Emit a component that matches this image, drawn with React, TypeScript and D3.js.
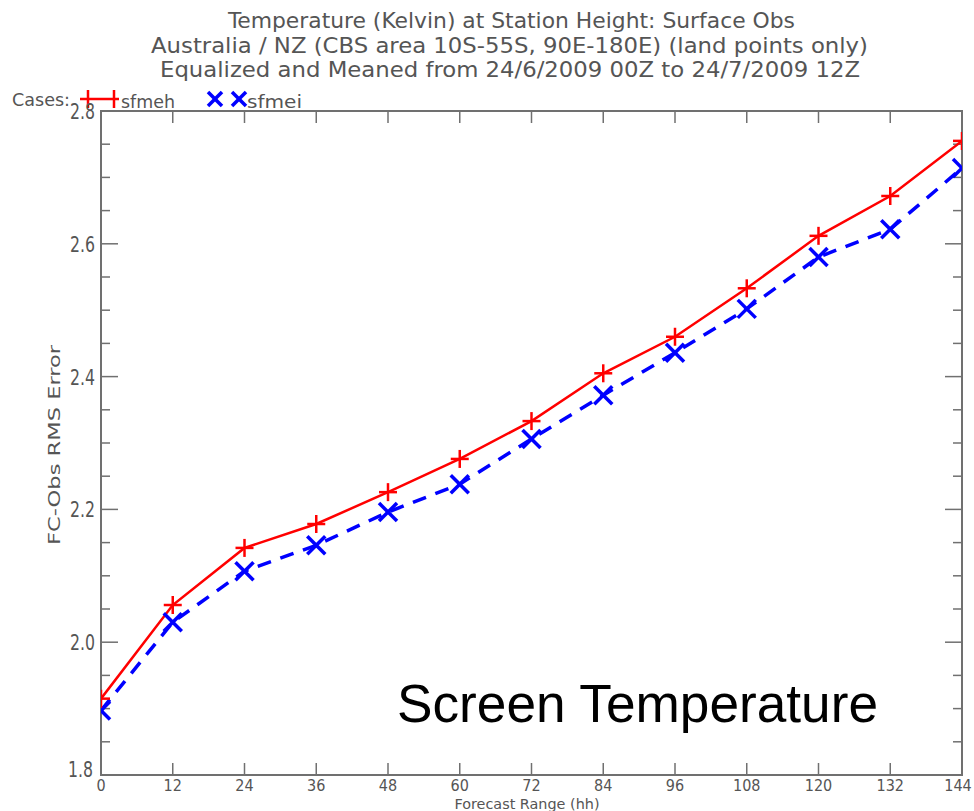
import * as d3 from "d3";
import React from "react";

// forecast range (hh)
const hours = [0, 12, 24, 36, 48, 60, 72, 84, 96, 108, 120, 132, 144];
// FC-Obs RMS error
const sfmeh = [1.915, 2.056, 2.142, 2.178, 2.226, 2.276, 2.333, 2.405, 2.46, 2.533, 2.612, 2.672, 2.755];
const sfmei = [1.897, 2.03, 2.107, 2.146, 2.196, 2.238, 2.306, 2.372, 2.436, 2.502, 2.58, 2.622, 2.714];
const yMajor = [1.8, 2.0, 2.2, 2.4, 2.6, 2.8];
const titleLines = [
  "Temperature (Kelvin) at Station Height:  Surface Obs",
  "Australia / NZ (CBS area 10S-55S, 90E-180E) (land points only)",
  "Equalized and Meaned from 24/6/2009 00Z to 24/7/2009 12Z",
];

const W = 974;
const H = 811;
const left = 101;
const right = 962;
const top = 111;
const bottom = 775;
const axisCol = "#707070";
const textCol = "#555";
const font = "'DejaVu Sans Condensed', 'DejaVu Sans', sans-serif";

const App = () => {
  const x = d3.scaleLinear().domain([0, 144]).range([left, right]);
  const y = d3.scaleLinear().domain([1.8, 2.8]).range([bottom, top]);

  const line = d3
    .line<number>()
    .x((_, i) => x(hours[i]))
    .y((d) => y(d));

  const minor = d3.range(1.8, 2.8001, 0.05);

  // title: x start, x end, baseline
  const titlePos = [
    [228, 795, 28],
    [151, 868, 53],
    [160, 860, 77],
  ];

  return (
    <svg width={W} height={H} style={{ position: "absolute", left: 0, top: 0, background: "#fff" }}>
      <defs>
        <clipPath id="plotClip">
          <rect x={left} y={top} width={right - left} height={bottom - top} />
        </clipPath>
      </defs>

      {titleLines.map((t, i) => (
        <text
          key={i}
          x={titlePos[i][0]}
          y={titlePos[i][2]}
          textLength={titlePos[i][1] - titlePos[i][0]}
          lengthAdjust="spacingAndGlyphs"
          fontFamily={font}
          fontSize={22}
          fill={textCol}
        >
          {t}
        </text>
      ))}

      {/* legend */}
      <text x={12} y={106} fontFamily={font} fontSize={18} fill={textCol} textLength={58} lengthAdjust="spacingAndGlyphs">
        Cases:
      </text>
      <g stroke="#ff0000" strokeWidth={2.5}>
        <line x1={80} x2={119} y1={99} y2={99} />
        <line x1={88} x2={88} y1={90} y2={108} />
        <line x1={114} x2={114} y1={90} y2={108} />
      </g>
      <text x={121} y={108} fontFamily={font} fontSize={18} fill={textCol} textLength={54} lengthAdjust="spacingAndGlyphs">
        sfmeh
      </text>
      <g stroke="#0000ff" strokeWidth={3.5}>
        {[215, 239].map((cx) => (
          <g key={cx}>
            <line x1={cx - 7} x2={cx + 7} y1={92} y2={106} />
            <line x1={cx - 7} x2={cx + 7} y1={106} y2={92} />
          </g>
        ))}
      </g>
      <text x={247} y={108} fontFamily={font} fontSize={18} fill={textCol} textLength={55} lengthAdjust="spacingAndGlyphs">
        sfmei
      </text>

      {/* frame */}
      <rect x={left} y={top} width={right - left} height={bottom - top} fill="none" stroke={axisCol} strokeWidth={2} />

      {/* y ticks, both sides inward */}
      {minor.map((v, i) => {
        const isMajor = i % 4 === 0;
        const len = isMajor ? 17 : 9;
        return (
          <g key={i} stroke={axisCol} strokeWidth={1.5}>
            <line x1={left} x2={left + len} y1={y(v)} y2={y(v)} />
            <line x1={right} x2={right - len} y1={y(v)} y2={y(v)} />
          </g>
        );
      })}
      {yMajor.map((v) => (
        <text
          key={v}
          x={v === 1.8 ? 93 : 95}
          y={v === 1.8 ? y(v) + 2 : y(v) + 8}
          textAnchor="end"
          fontFamily={font}
          fontSize={21}
          fill={textCol}
          textLength={25}
          lengthAdjust="spacingAndGlyphs"
        >
          {v.toFixed(1)}
        </text>
      ))}

      {/* x ticks, top and bottom inward */}
      {hours.map((h) => (
        <g key={h}>
          <line x1={x(h)} x2={x(h)} y1={bottom} y2={bottom - 12} stroke={axisCol} strokeWidth={1.5} />
          <line x1={x(h)} x2={x(h)} y1={top} y2={top + 12} stroke={axisCol} strokeWidth={1.5} />
          <text
            x={Math.min(x(h), 958)}
            y={791}
            textAnchor="middle"
            fontFamily={font}
            fontSize={16}
            fill={textCol}
          >
            {h}
          </text>
        </g>
      ))}
      <text
        x={527}
        y={809}
        textAnchor="middle"
        fontFamily={font}
        fontSize={14}
        fill={textCol}
        textLength={145}
        lengthAdjust="spacingAndGlyphs"
      >
        Forecast Range (hh)
      </text>
      <text
        transform={`translate(60, ${445}) rotate(-90)`}
        textAnchor="middle"
        fontFamily={font}
        fontSize={15}
        fill={textCol}
        textLength={200}
        lengthAdjust="spacingAndGlyphs"
      >
        FC-Obs RMS Error
      </text>

      <g clipPath="url(#plotClip)">
        <path d={line(sfmei) ?? ""} fill="none" stroke="#0000ff" strokeWidth={3.5} strokeDasharray="14 10" />
        <path d={line(sfmeh) ?? ""} fill="none" stroke="#ff0000" strokeWidth={2.5} />
        {sfmei.map((v, i) => (
          <g key={i} stroke="#0000ff" strokeWidth={3.5}>
            <line x1={x(hours[i]) - 9} x2={x(hours[i]) + 9} y1={y(v) - 9} y2={y(v) + 9} />
            <line x1={x(hours[i]) - 9} x2={x(hours[i]) + 9} y1={y(v) + 9} y2={y(v) - 9} />
          </g>
        ))}
        {sfmeh.map((v, i) => (
          <g key={i} stroke="#ff0000" strokeWidth={2.5}>
            <line x1={x(hours[i]) - 9} x2={x(hours[i]) + 9} y1={y(v)} y2={y(v)} />
            <line x1={x(hours[i])} x2={x(hours[i])} y1={y(v) - 9} y2={y(v) + 9} />
          </g>
        ))}
      </g>

      <text
        x={397}
        y={722}
        fontFamily="'Liberation Sans', Arial, sans-serif"
        fontSize={53}
        fill="#000"
        textLength={481}
        lengthAdjust="spacingAndGlyphs"
      >
        Screen Temperature
      </text>
    </svg>
  );
};

export default App;
